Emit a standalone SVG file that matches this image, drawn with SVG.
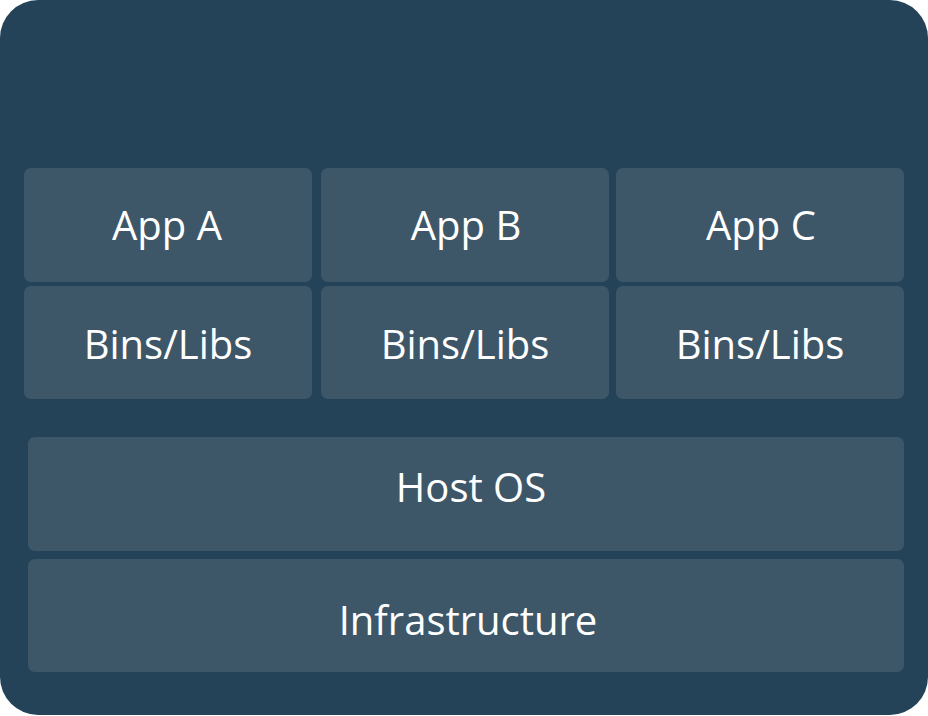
<svg xmlns="http://www.w3.org/2000/svg" width="928" height="716" viewBox="0 0 928 716">
<style>
.box{fill:#3d5769}
.t{font-family:"Open Sans","Liberation Sans",sans-serif;font-size:40px;fill:#ffffff;text-anchor:middle}
</style>
<rect x="0" y="0" width="928" height="715" rx="38" ry="38" fill="#254358"/>
<g id="appA"><rect class="box" x="24" y="168" width="288" height="114" rx="7"/><text class="t" x="167" y="240">App A</text></g>
<g id="appB"><rect class="box" x="321" y="168" width="288" height="114" rx="7"/><text class="t" x="466" y="240">App B</text></g>
<g id="appC"><rect class="box" x="616" y="168" width="288" height="114" rx="7"/><text class="t" x="761" y="240">App C</text></g>
<g id="binsA"><rect class="box" x="24" y="286" width="288" height="113" rx="7"/><text class="t" x="168" y="359">Bins/Libs</text></g>
<g id="binsB"><rect class="box" x="321" y="286" width="288" height="113" rx="7"/><text class="t" x="465" y="359">Bins/Libs</text></g>
<g id="binsC"><rect class="box" x="616" y="286" width="288" height="113" rx="7"/><text class="t" x="760" y="359">Bins/Libs</text></g>
<g id="hostos"><rect class="box" x="28" y="437" width="876" height="114" rx="7"/><text class="t" x="471" y="502">Host OS</text></g>
<g id="infra"><rect class="box" x="28" y="559" width="876" height="113" rx="7"/><text class="t" x="468" y="635">Infrastructure</text></g>
<g id="connectors"/>
</svg>
